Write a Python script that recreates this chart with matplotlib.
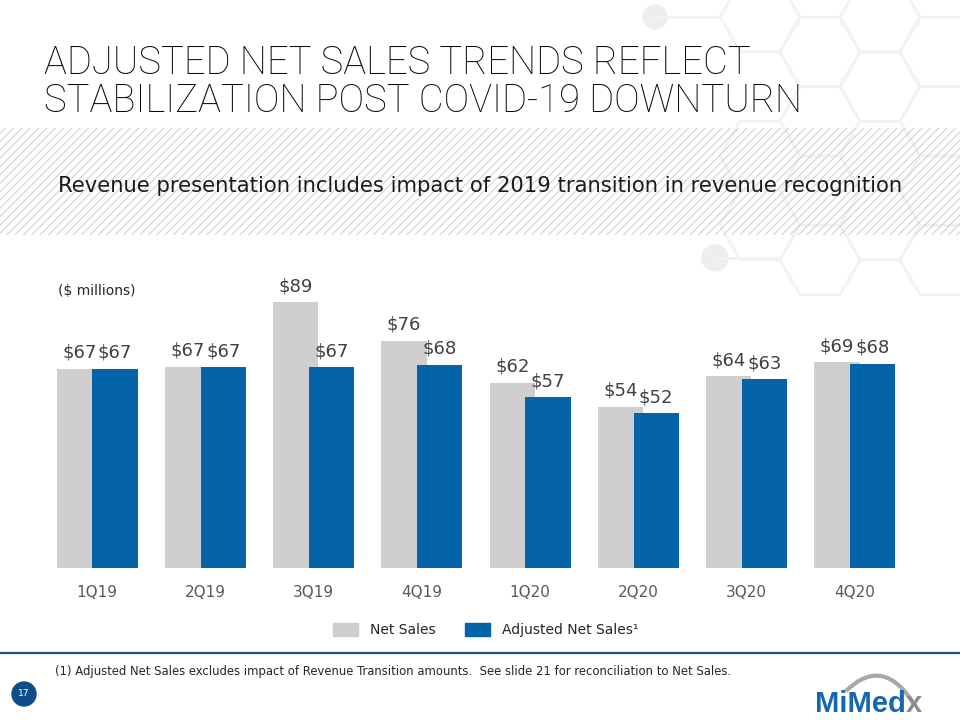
import numpy as np
import matplotlib
matplotlib.use("Agg")
import matplotlib.pyplot as plt
from matplotlib.patches import Rectangle, RegularPolygon, Circle, PathPatch, Patch
from matplotlib.path import Path

# ── data ─────────────────────────────────────────────────────────
quarters = ["1Q19", "2Q19", "3Q19", "4Q19", "1Q20", "2Q20", "3Q20", "4Q20"]
net_sales = [66.8, 67.4, 89.1, 76.2, 62.0, 54.0, 64.3, 69.0]
adj_net_sales = [66.8, 67.3, 67.3, 68.1, 57.2, 51.8, 63.3, 68.4]

TITLE_1 = "ADJUSTED NET SALES TRENDS REFLECT"
TITLE_2 = "STABILIZATION POST COVID-19 DOWNTURN"
SUBTITLE = "Revenue presentation includes impact of 2019 transition in revenue recognition"
FOOTNOTE = ("(1) Adjusted Net Sales excludes impact of Revenue Transition amounts.  "
            "See slide 21 for reconciliation to Net Sales.")

GRAY = "#D0CECE"
BLUE = "#0563A8"
NAVY = "#1F4E85"
TXT = "#404040"
HEX = "#F2F2F2"

plt.rcParams["font.family"] = ["DejaVu Sans"]
plt.rcParams["hatch.linewidth"] = 0.7

fig = plt.figure(figsize=(9.6, 7.2), dpi=100)
fig.patch.set_facecolor("white")

# ── background layer in pixel coords ────────────────────────────
bg = fig.add_axes([0, 0, 1, 1], zorder=0)
bg.set_xlim(0, 960); bg.set_ylim(720, 0); bg.axis("off")

# honeycomb decoration top right
hex_centers = [(760, 17), (820, 52), (880, 17), (940, 52), (880, 87), (820, 121),
               (940, 121), (760, 156), (880, 156), (820, 191), (940, 191),
               (760, 225), (880, 225), (820, 260), (940, 260)]
for cx, cy in hex_centers:
    bg.add_patch(RegularPolygon((cx, cy), 6, radius=40, orientation=np.pi / 6,
                                facecolor="none", edgecolor=HEX, lw=2))
for (cx, cy, r, x2) in [(655, 17, 12, 720), (715, 258, 13, 780)]:
    bg.plot([cx, x2], [cy, cy], color=HEX, lw=2)
    bg.add_patch(Circle((cx, cy), r, color="#EEEEEE"))

# hatched band behind subtitle
bg.add_patch(Rectangle((0, 128), 960, 107, facecolor="none", edgecolor="#CDCDCD",
                       hatch="////", lw=0))

bg.text(44, 74, TITLE_1, fontsize=27.5, family=["Roboto", "DejaVu Sans"], weight="light",
        color="#0A0A0A", va="baseline")
bg.text(44, 112, TITLE_2, fontsize=27.5, family=["Roboto", "DejaVu Sans"], weight="light",
        color="#0A0A0A", va="baseline")
bg.text(480, 192, SUBTITLE, fontsize=15.2, color="#1A1A1A", ha="center", va="baseline")

bg.text(58, 291, "($ millions)", fontsize=10, color="#262626", va="center")

# footer
bg.plot([0, 960], [653, 653], color=NAVY, lw=1.6)
bg.text(55, 671, FOOTNOTE, fontsize=8.4, color="#262626", va="center")
bg.add_patch(Circle((24, 694), 12, color="#0F4C8A"))
bg.text(24, 694, "17", fontsize=6.5, color="white", ha="center", va="center")

# logo
arc = Path([(846, 691), (884, 654), (915, 706)], [Path.MOVETO, Path.CURVE3, Path.CURVE3])
bg.add_patch(PathPatch(arc, facecolor="none", edgecolor="#A8A8A8", lw=3))
logo = bg.text(815, 712, "MiMed", fontsize=21, weight="bold", color="#1667B0",
               family=["Liberation Sans Narrow", "Liberation Sans"], va="baseline")
bg.annotate("x", xy=(1, 0), xycoords=logo, fontsize=21, weight="bold", color="#8C8C8C",
            family=["Liberation Sans Narrow", "Liberation Sans"], va="bottom", ha="left")

# ── bar chart ────────────────────────────────────────────────────
ax = fig.add_axes([43 / 960, 1 - 568 / 720, 866 / 960, 298.5 / 720], zorder=2)
ax.patch.set_alpha(0)
x = np.arange(len(quarters))
w = 0.42
b1 = ax.bar(x - 0.165, net_sales, w, color=GRAY, zorder=2)
b2 = ax.bar(x + 0.165, adj_net_sales, w, color=BLUE, zorder=3)
for bars, vals in [(b1, net_sales), (b2, adj_net_sales)]:
    for bar, v in zip(bars, vals):
        ax.annotate(f"${v:.0f}", (bar.get_x() + bar.get_width() / 2, bar.get_height()),
                    xytext=(0, 5), textcoords="offset points", ha="center", va="bottom",
                    fontsize=13, color=TXT)

ax.set_xlim(-0.5, len(quarters) - 0.5)
ax.set_ylim(0, 100)
ax.set_yticks([])
ax.set_xticks(x)
ax.set_xticklabels(quarters, fontsize=11, color="#595959")
ax.tick_params(axis="x", length=0, pad=12)
for sp in ax.spines.values():
    sp.set_visible(False)

handles = [Patch(color=GRAY, label="Net Sales"), Patch(color=BLUE, label="Adjusted Net Sales¹")]
fig.legend(handles=handles, loc="center", bbox_to_anchor=(0.506, 1 - 630 / 720), ncol=2,
           frameon=False, fontsize=10, handlelength=1.8, handleheight=1.15,
           handletextpad=0.86, columnspacing=2.1, labelcolor="#262626")

plt.savefig("out.png", dpi=100, facecolor="white")
